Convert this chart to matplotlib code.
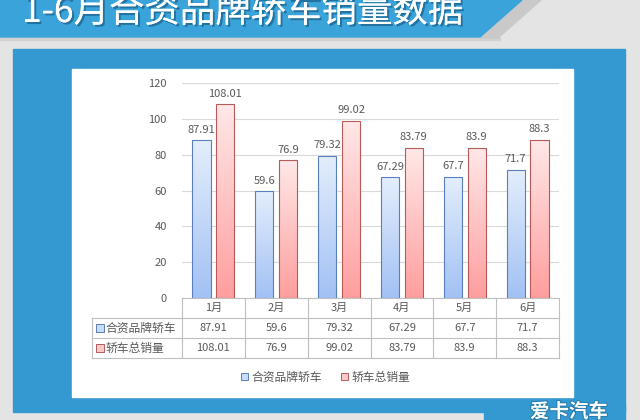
import numpy as np
import matplotlib
matplotlib.use('Agg')
import matplotlib.pyplot as plt
from matplotlib.patches import Polygon, Rectangle, Patch
import matplotlib.patheffects as pe
from matplotlib.colors import to_rgb
from matplotlib.transforms import blended_transform_factory

plt.rcParams['font.family'] = ['Noto Sans CJK SC', 'DejaVu Sans']

# ---- data ----
title = '1-6月合资品牌轿车销量数据'
months = ['1月', '2月', '3月', '4月', '5月', '6月']
series_names = ['合资品牌轿车', '轿车总销量']
hezi = [87.91, 59.6, 79.32, 67.29, 67.7, 71.7]
total = [108.01, 76.9, 99.02, 83.79, 83.9, 88.3]
hezi_labels = ['87.91', '59.6', '79.32', '67.29', '67.7', '71.7']
total_labels = ['108.01', '76.9', '99.02', '83.79', '83.9', '88.3']
yticks = [0, 20, 40, 60, 80, 100, 120]
logo_text = '爱卡汽车'

TXT = '#595959'
W, H = 640, 420
fig = plt.figure(figsize=(6.4, 4.2), dpi=100)

# ---- background (pixel coordinates) ----
bg = fig.add_axes([0, 0, 1, 1], zorder=0)
bg.set_xlim(0, W); bg.set_ylim(H, 0); bg.axis('off')
bg.add_patch(Rectangle((0, 0), W, H, color='#e4e4e4'))
bg.add_patch(Rectangle((0, 37), 500, 3, color='#d2d2d2'))
bg.add_patch(Polygon([(522, 0), (541, 0), (498, 38), (480, 38)], closed=True, color='#c9c9c9'))
bg.add_patch(Polygon([(0, 0), (522, 0), (480, 37), (0, 37)], closed=True, color='#3aa3da'))
bg.add_patch(Rectangle((13, 49), 612, 363, color='#3499d1'))
bg.add_patch(Rectangle((484, 405), 141, 15, color='#3499d1'))
bg.add_patch(Rectangle((72, 69), 501, 328, color='white'))
bg.text(22, 22, title, color='white', fontsize=25.5, ha='left', va='baseline',
        path_effects=[pe.withSimplePatchShadow(offset=(1.5, -1.5), shadow_rgbFace='#1b5e86', alpha=0.7), pe.Normal()])
bg.text(569, 412, logo_text, color='white', fontsize=14, fontweight='bold', ha='center', va='center',
        path_effects=[pe.withStroke(linewidth=1.5, foreground='#2a7fb0')])

# ---- chart ----
ax = fig.add_axes([182 / W, 1 - 298 / H, (559 - 182) / W, (298 - 83) / H], zorder=2)
ax.patch.set_alpha(0)
x = np.arange(len(months))
bw = 0.29
off = 0.19
ax.set_xlim(-0.5, len(months) - 0.5)
ax.set_ylim(0, 120)
ax.set_yticks(yticks)
ax.set_yticklabels([str(v) for v in yticks], color=TXT, fontsize=8)
ax.tick_params(axis='y', length=0, pad=11)
ax.set_xticks([])
for s in ax.spines.values():
    s.set_visible(False)
ax.yaxis.grid(True, color='#d9d9d9', lw=0.8)
ax.set_axisbelow(True)

def grad_bars(xpos, vals, top_c, bot_c, edge):
    bars = ax.bar(xpos, vals, bw, facecolor='none', edgecolor=edge, lw=0.8, zorder=3)
    t = np.linspace(0, 1, 128)[:, None]
    c0, c1 = np.array(to_rgb(bot_c)), np.array(to_rgb(top_c))
    img = (c0[None, None, :] * (1 - t[..., None]) + c1[None, None, :] * t[..., None])
    for b in bars:
        x0, y0, w, h = b.get_x(), b.get_y(), b.get_width(), b.get_height()
        im = ax.imshow(img, extent=[x0, x0 + w, y0, y0 + h], origin='lower', aspect='auto', zorder=2)
        im.set_clip_path(b)
    return bars

b1 = grad_bars(x - off, hezi, '#e4eefc', '#a2c1f4', '#5b7fbe')
b2 = grad_bars(x + off, total, '#ffe8e8', '#ff9e9e', '#b65a5a')
ax.set_xlim(-0.5, len(months) - 0.5)
ax.set_ylim(0, 120)

for xi, v, lab in zip(x - off, hezi, hezi_labels):
    ax.annotate(lab, (xi, v), xytext=(0, 4), textcoords='offset points', ha='center', va='bottom', fontsize=8, color=TXT)
for xi, v, lab in zip(x + off, total, total_labels):
    ax.annotate(lab, (xi, v), xytext=(0, 4), textcoords='offset points', ha='center', va='bottom', fontsize=8, color=TXT)

# ---- data table ----
tr = blended_transform_factory(ax.transData, ax.transAxes)
rh = 20 / 215.0
colw_px = (559 - 182) / len(months)
xl = -0.5 - 90 / colw_px
lc = '#c0c0c0'
n = len(months)
ax.plot([-0.5, n - 0.5], [0, 0], color=lc, lw=0.8, transform=tr, clip_on=False)
for k in (1, 2, 3):
    ax.plot([xl, n - 0.5], [-k * rh, -k * rh], color=lc, lw=0.8, transform=tr, clip_on=False)
for k in range(n + 1):
    ax.plot([-0.5 + k, -0.5 + k], [0, -3 * rh], color=lc, lw=0.8, transform=tr, clip_on=False)
ax.plot([xl, xl], [-rh, -3 * rh], color=lc, lw=0.8, transform=tr, clip_on=False)

for i, m in enumerate(months):
    ax.text(i, -0.5 * rh, m, transform=tr, ha='center', va='center', fontsize=8, color=TXT)
    ax.text(i, -1.5 * rh, hezi_labels[i], transform=tr, ha='center', va='center', fontsize=8, color=TXT)
    ax.text(i, -2.5 * rh, total_labels[i], transform=tr, ha='center', va='center', fontsize=8, color=TXT)

sq_x = xl + 8 / colw_px
txt_x = xl + 13 / colw_px
for r, (name, fc, ec) in enumerate(zip(series_names, ['#c9dcf6', '#f8c9c9'], ['#5b7fbe', '#b65a5a'])):
    yy = -(1.5 + r) * rh
    ax.plot([sq_x], [yy], marker='s', ms=5.5, mfc=fc, mec=ec, mew=0.7, transform=tr, clip_on=False)
    ax.text(txt_x, yy, name, transform=tr, ha='left', va='center', fontsize=8.5, color=TXT)

# ---- legend ----
handles = [Patch(facecolor='#c9dcf6', edgecolor='#5b7fbe', lw=0.7),
           Patch(facecolor='#f8c9c9', edgecolor='#b65a5a', lw=0.7)]
leg = fig.legend(handles, series_names, loc='center', bbox_to_anchor=(326 / W, 1 - 377 / H), ncol=2,
                 frameon=False, handlelength=0.6, handleheight=0.6, handletextpad=0.3, columnspacing=1.6,
                 prop={'size': 8.5})
for t in leg.get_texts():
    t.set_color(TXT)

fig.savefig('out.png', dpi=100)
